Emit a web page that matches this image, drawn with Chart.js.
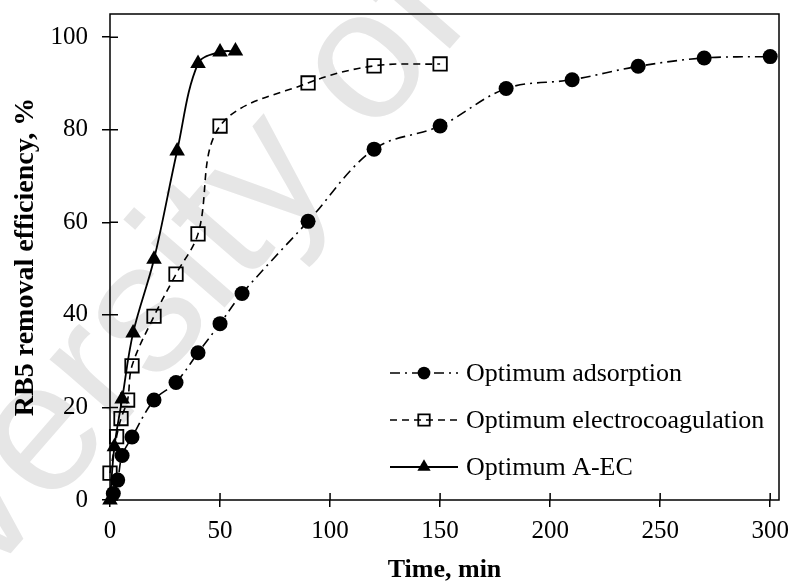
<!DOCTYPE html>
<html>
<head>
<meta charset="utf-8">
<script src="https://cdn.jsdelivr.net/npm/chart.js@4"></script>
<style>
  html, body { margin: 0; padding: 0; background: #fff; }
  canvas { display: block; }
</style>
</head>
<body>
<canvas id="grafica" width="791" height="583"></canvas>
<script>
// tiempos (min) y eficiencia de remocion de RB5 (%)
const adsTiempo = [1.5, 3.5, 5.5, 10, 20, 30, 40, 50, 60, 90, 120, 150, 180, 210, 240, 270, 300];
const adsValor = [1.4, 4.3, 9.6, 13.6, 21.6, 25.4, 31.8, 38.1, 44.6, 60.2, 75.8, 80.8, 88.9, 90.8, 93.7, 95.5, 95.8];

const ecTiempo = [0, 3, 5, 8, 10, 20, 30, 40, 50, 90, 120, 150];
const ecValor = [5.8, 13.7, 17.6, 21.6, 29, 39.7, 48.8, 57.5, 80.8, 90.1, 93.8, 94.2];

const aecTiempo = [0, 2, 5.5, 10.5, 20, 30.5, 40, 50, 57];
const aecValor = [0, 11.5, 21.8, 36.1, 52, 75.4, 94.3, 96.8, 97];

const nombres = ["Optimum adsorption", "Optimum electrocoagulation", "Optimum A-EC"];
const xTicks = [0, 50, 100, 150, 200, 250, 300];
const yTicks = [0, 20, 40, 60, 80, 100];

const serif = "'Liberation Serif', 'Times New Roman', serif";

const puntos = (xs, ys) => xs.map((x, i) => ({ x, y: ys[i] }));

// marca de agua gris de fondo
const marcaAgua = {
  id: "marcaAgua",
  beforeDraw(chart) {
    const ctx = chart.ctx;
    ctx.save();
    ctx.fillStyle = "#ffffff";
    ctx.fillRect(0, 0, chart.width, chart.height);
    ctx.translate(-195, 790);
    ctx.rotate(-49 * Math.PI / 180);
    ctx.font = "185px 'Liberation Sans', Arial, sans-serif";
    ctx.fillStyle = "#e6e6e6";
    ctx.textBaseline = "alphabetic";
    ctx.fillText("University of Malaya", 0, 0);
    ctx.restore();
  },
};

// marco del area y marcas internas de los ejes
const marco = {
  id: "marco",
  beforeDatasetsDraw(chart) {
    const { ctx, chartArea: a, scales } = chart;
    ctx.save();
    ctx.strokeStyle = "#000";
    ctx.lineWidth = 1.5;
    ctx.strokeRect(a.left, a.top, a.right - a.left, a.bottom - a.top);
    ctx.beginPath();
    xTicks.forEach((v) => {
      const px = scales.x.getPixelForValue(v);
      ctx.moveTo(px, a.bottom);
      ctx.lineTo(px, a.bottom - 7);
    });
    yTicks.forEach((v) => {
      const py = scales.y.getPixelForValue(v);
      ctx.moveTo(a.left, py);
      ctx.lineTo(a.left + 8, py);
    });
    ctx.stroke();
    ctx.restore();
  },
  afterDraw(chart) {
    const ctx = chart.ctx;
    const filas = [373, 420, 467];
    ctx.save();
    chart.data.datasets.forEach((ds, i) => {
      const y = filas[i];
      ctx.strokeStyle = "#000";
      ctx.lineWidth = ds.borderWidth;
      ctx.setLineDash(ds.borderDash || []);
      ctx.beginPath();
      ctx.moveTo(390, y);
      ctx.lineTo(458, y);
      ctx.stroke();
      ctx.setLineDash([]);
      ctx.fillStyle = ds.pointBackgroundColor;
      ctx.lineWidth = ds.pointBorderWidth;
      Chart.helpers.drawPoint(ctx, {
        pointStyle: ds.pointStyle,
        radius: ds.pointRadius * 0.85,
        rotation: 0,
        borderWidth: ds.pointBorderWidth,
      }, 424, y);
      ctx.fillStyle = "#000";
      ctx.font = "26px " + serif;
      ctx.textBaseline = "middle";
      ctx.textAlign = "left";
      ctx.fillText(ds.label, 466, y + 1);
    });
    ctx.restore();
  },
};

const soloTicks = (lista) => (scale) => {
  scale.ticks = lista.map((value) => ({ value }));
};

const config = {
  type: "scatter",
  data: {
    datasets: [
      {
        label: nombres[0],
        data: puntos(adsTiempo, adsValor),
        showLine: true,
        tension: 0.35,
        borderColor: "#000",
        borderWidth: 1.6,
        borderDash: [10, 5, 2, 5],
        pointStyle: "circle",
        pointRadius: 7.5,
        pointBackgroundColor: "#000",
        pointBorderColor: "#000",
        pointBorderWidth: 0,
        clip: false,
      },
      {
        label: nombres[1],
        data: puntos(ecTiempo, ecValor),
        showLine: true,
        tension: 0.35,
        borderColor: "#000",
        borderWidth: 1.6,
        borderDash: [7, 5],
        pointStyle: "rect",
        pointRadius: 9.5,
        pointBackgroundColor: "rgba(255,255,255,0)",
        pointBorderColor: "#000",
        pointBorderWidth: 1.8,
        clip: false,
      },
      {
        label: nombres[2],
        data: puntos(aecTiempo, aecValor),
        showLine: true,
        tension: 0.35,
        borderColor: "#000",
        borderWidth: 1.8,
        pointStyle: "triangle",
        pointRadius: 9,
        pointBackgroundColor: "#000",
        pointBorderColor: "#000",
        pointBorderWidth: 0,
        clip: false,
      },
    ],
  },
  options: {
    responsive: false,
    animation: false,
    layout: { padding: { top: 14, right: 12, left: 0, bottom: 0 } },
    plugins: { legend: { display: false }, tooltip: { enabled: false } },
    scales: {
      x: {
        type: "linear",
        min: 0,
        max: 304,
        afterBuildTicks: soloTicks(xTicks),
        afterFit: (s) => {
          s.height = 83;
          s.paddingLeft = 0;
          s.paddingRight = 0;
        },
        grid: { drawOnChartArea: false, tickLength: 7, color: "#000", lineWidth: 1.5 },
        border: { display: false },
        ticks: { color: "#000", padding: 9, font: { family: serif, size: 25 } },
        title: {
          display: true,
          text: "Time, min",
          color: "#000",
          font: { family: serif, size: 26, weight: "bold", lineHeight: 1 },
          padding: { top: 0, bottom: 0 },
        },
      },
      y: {
        type: "linear",
        min: 0,
        max: 105,
        afterBuildTicks: soloTicks(yTicks),
        afterFit: (s) => {
          s.width = 110;
          s.paddingTop = 0;
          s.paddingBottom = 0;
        },
        grid: { drawOnChartArea: false, tickLength: 8, color: "#000", lineWidth: 1.5 },
        border: { display: false },
        ticks: { color: "#000", padding: 14, font: { family: serif, size: 25 } },
        title: {
          display: true,
          text: "RB5 removal efficiency, %",
          color: "#000",
          font: { family: serif, size: 28, weight: "bold", lineHeight: 1 },
          padding: { top: 12, bottom: 0 },
        },
      },
    },
  },
  plugins: [marcaAgua, marco],
};

const grafica = new Chart(document.getElementById("grafica"), config);
</script>
</body>
</html>
